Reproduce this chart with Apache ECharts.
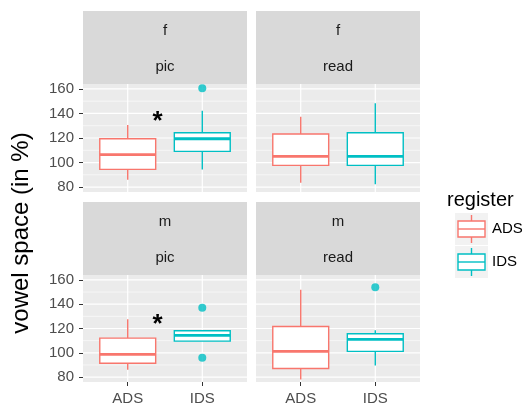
<!DOCTYPE html>
<html><head><meta charset="utf-8">
<script src="https://cdn.jsdelivr.net/npm/echarts@6/dist/echarts.min.js"></script>
<style>html,body{margin:0;padding:0;background:#fff}#c{width:528px;height:409px}</style>
</head><body><div id="c"></div>
<script>
// ---- data ----
const categories = ['ADS', 'IDS'];
const registerColors = ['#F8766D', '#00BFC4'];
// [min, Q1, median, Q3, max] per register (ADS, IDS)
const fPicBoxes  = [[86, 94.4, 106.4, 119.4, 130.6], [94.4, 109.1, 119.4, 124.3, 142.3]];
const fReadBoxes = [[83.5, 97.7, 105, 123.3, 137.4], [82.4, 97.7, 105, 124.3, 148.3]];
const mPicBoxes  = [[86, 91.4, 98.8, 112.1, 127.6], [109.6, 109.6, 114.3, 118.1, 118.6]];
const mReadBoxes = [[78, 87.1, 101.2, 121.6, 151.8], [89.5, 101.2, 111, 115.7, 118.6]];
// outliers: [category position, value]
const fPicOutliers  = [[2, 160.5]];
const fReadOutliers = [];
const mPicOutliers  = [[2, 137], [2, 96]];
const mReadOutliers = [[2, 154]];
// significance stars: [x position, value]
const fPicStars = [[1.4, 138]];
const mPicStars = [[1.4, 128]];
const yTicks = [80, 100, 120, 140, 160];
const yMinorTicks = [90, 110, 130, 150];
const xTicks = [1, 2];
const stripRows = [['f', 'pic'], ['f', 'read'], ['m', 'pic'], ['m', 'read']];
const yLimits = [76, 164];
const xLimits = [0.4, 2.6];

// ---- layout ----
const grids = [
  {left: 83, top: 84, width: 164, height: 108},
  {left: 256, top: 84, width: 164, height: 108},
  {left: 83, top: 275, width: 164, height: 107},
  {left: 256, top: 275, width: 164, height: 107}
];
const panelBoxes = [fPicBoxes, fReadBoxes, mPicBoxes, mReadBoxes];
const panelOutliers = [fPicOutliers, fReadOutliers, mPicOutliers, mReadOutliers];
const panelStars = [fPicStars, [], mPicStars, []];
const FONT = '"Liberation Sans", Arial, sans-serif';

const xAxes = [], yAxes = [], series = [], graphics = [];
grids.forEach((g, p) => {
  g.show = true; g.backgroundColor = '#EBEBEB'; g.borderWidth = 0;
  const bottomRow = p >= 2, leftCol = p % 2 === 0;
  xAxes.push({
    type: 'value', gridIndex: p, min: xLimits[0], max: xLimits[1],
    splitLine: {show: false}, axisLine: {show: false},
    axisTick: {show: bottomRow, length: 4, customValues: xTicks, lineStyle: {color: '#333', width: 1}},
    axisLabel: {show: bottomRow, customValues: xTicks, margin: 9, color: '#4D4D4D', fontSize: 15, fontFamily: FONT,
      formatter: v => categories[Math.round(v) - 1] || ''}
  });
  yAxes.push({
    type: 'value', gridIndex: p, min: yLimits[0], max: yLimits[1],
    splitLine: {show: false}, axisLine: {show: false},
    axisTick: {show: leftCol, length: 4, customValues: yTicks, lineStyle: {color: '#333', width: 1}},
    axisLabel: {show: leftCol, customValues: yTicks, margin: 9, color: '#4D4D4D', fontSize: 15, fontFamily: FONT}
  });
  // grid lines
  series.push({
    type: 'custom', xAxisIndex: p, yAxisIndex: p, z: 1, silent: true,
    data: yMinorTicks.map(v => [0, v]).concat(yTicks.map(v => [1, v])).concat(xTicks.map(v => [2, v])),
    renderItem: (params, api) => {
      const kind = api.value(0), v = api.value(1), cs = params.coordSys;
      if (kind === 2) {
        const x = api.coord([v, yLimits[0]])[0];
        return {type: 'line', shape: {x1: x, y1: cs.y, x2: x, y2: cs.y + cs.height}, style: {stroke: '#fff', lineWidth: 1.2}};
      }
      const y = api.coord([xLimits[0], v])[1];
      return {type: 'line', shape: {x1: cs.x, y1: y, x2: cs.x + cs.width, y2: y},
        style: {stroke: '#fff', lineWidth: kind === 1 ? 1.2 : 0.6}};
    }
  });
  // boxplots
  series.push({
    type: 'custom', xAxisIndex: p, yAxisIndex: p, z: 3,
    name: 'box' + p,
    data: panelBoxes[p].map((b, i) => [i + 1].concat(b)),
    encode: {x: 0, y: [1, 2, 3, 4, 5]},
    renderItem: (params, api) => {
      const xi = api.value(0);
      const col = registerColors[xi - 1];
      const half = api.size([0.75, 0])[0] / 2;
      const pMin = api.coord([xi, api.value(1)]);
      const pQ1 = api.coord([xi, api.value(2)]);
      const pMed = api.coord([xi, api.value(3)]);
      const pQ3 = api.coord([xi, api.value(4)]);
      const pMax = api.coord([xi, api.value(5)]);
      const x = pMed[0];
      return {type: 'group', children: [
        {type: 'line', shape: {x1: x, y1: pMax[1], x2: x, y2: pQ3[1]}, style: {stroke: col, lineWidth: 1.4}},
        {type: 'line', shape: {x1: x, y1: pQ1[1], x2: x, y2: pMin[1]}, style: {stroke: col, lineWidth: 1.4}},
        {type: 'rect', shape: {x: x - half, y: pQ3[1], width: half * 2, height: pQ1[1] - pQ3[1]},
          style: {fill: '#fff', stroke: col, lineWidth: 1.4}},
        {type: 'line', shape: {x1: x - half, y1: pMed[1], x2: x + half, y2: pMed[1]}, style: {stroke: col, lineWidth: 2.8}}
      ]};
    }
  });
  // outliers
  series.push({
    type: 'scatter', xAxisIndex: p, yAxisIndex: p, z: 4, symbolSize: 8,
    itemStyle: {color: registerColors[1]},
    data: panelOutliers[p]
  });
  // stars
  if (panelStars[p].length) {
    series.push({
      type: 'custom', xAxisIndex: p, yAxisIndex: p, z: 5,
      data: panelStars[p],
      renderItem: (params, api) => {
        const pt = api.coord([api.value(0), api.value(1)]);
        return {type: 'text', x: pt[0], y: pt[1] + 6,
          style: {text: '*', fill: '#000', font: 'bold 26px ' + FONT, align: 'center', verticalAlign: 'middle'}};
      }
    });
  }
  // strips
  const sTop = g.top - 73, sh = 36.5;
  stripRows[p].forEach((t, r) => {
    graphics.push({type: 'rect', shape: {x: g.left, y: sTop + r * sh, width: g.width, height: sh + (r === 0 ? 0.5 : 0)},
      style: {fill: '#D9D9D9'}, silent: true});
    graphics.push({type: 'text', x: g.left + g.width / 2, y: sTop + r * sh + sh / 2 + 1.5,
      style: {text: t, fill: '#1A1A1A', font: '15px ' + FONT, align: 'center', verticalAlign: 'middle'}});
  });
});

// y-axis title
graphics.push({type: 'text', x: 21, y: 233, rotation: Math.PI / 2,
  style: {text: 'vowel space (in %)', fill: '#000', font: '24px ' + FONT, align: 'center', verticalAlign: 'middle'}});

// legend
graphics.push({type: 'text', x: 447, y: 200,
  style: {text: 'register', fill: '#000', font: '20px ' + FONT, align: 'left', verticalAlign: 'middle'}});
categories.forEach((c, i) => {
  const ky = 213 + i * 33, kx = 455, kw = 33, kh = 32, col = registerColors[i];
  const cx = kx + kw / 2;
  graphics.push({type: 'rect', shape: {x: kx, y: ky, width: kw, height: kh}, style: {fill: '#F2F2F2'}});
  graphics.push({type: 'line', shape: {x1: cx, y1: ky + 2, x2: cx, y2: ky + 8}, style: {stroke: col, lineWidth: 1.4}});
  graphics.push({type: 'line', shape: {x1: cx, y1: ky + kh - 8, x2: cx, y2: ky + kh - 2}, style: {stroke: col, lineWidth: 1.4}});
  graphics.push({type: 'rect', shape: {x: kx + 3, y: ky + 8, width: kw - 6, height: kh - 16}, style: {fill: '#fff', stroke: col, lineWidth: 1.4}});
  graphics.push({type: 'line', shape: {x1: kx + 3, y1: ky + kh / 2, x2: kx + kw - 3, y2: ky + kh / 2}, style: {stroke: col, lineWidth: 1.4}});
  graphics.push({type: 'text', x: kx + kw + 4, y: ky + kh / 2,
    style: {text: c, fill: '#000', font: '15px ' + FONT, align: 'left', verticalAlign: 'middle'}});
});

const chart = echarts.init(document.getElementById('c'), null, {renderer: 'canvas'});
chart.setOption({
  animation: false,
  backgroundColor: '#fff',
  grid: grids, xAxis: xAxes, yAxis: yAxes, series: series, graphic: graphics
});
</script></body></html>
